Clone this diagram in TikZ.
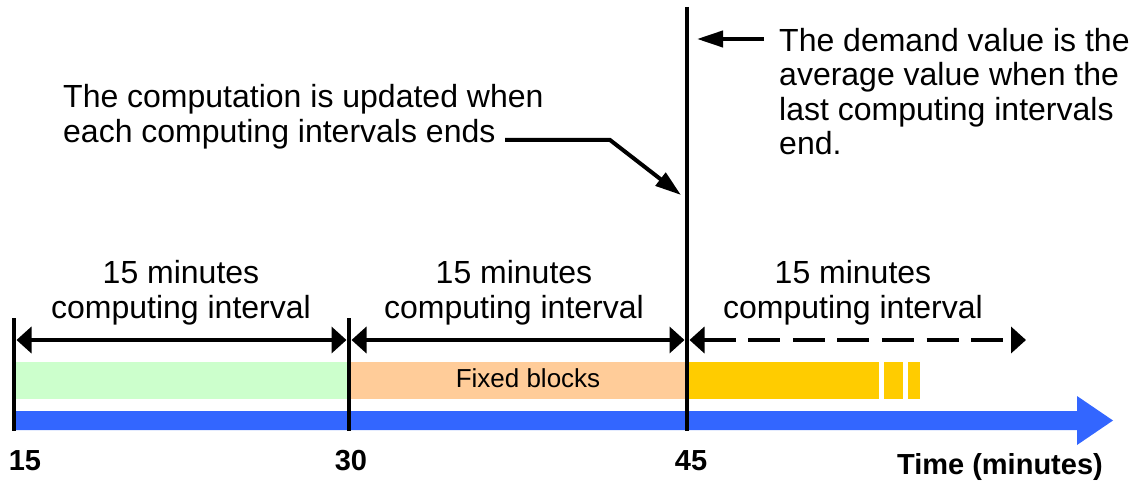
\documentclass[tikz,border=0pt]{standalone}
\usepackage{fontspec}
\setmainfont{Liberation Sans}
\usetikzlibrary{arrows.meta}
\definecolor{bargreen}{HTML}{CCFFCC}
\definecolor{barorange}{HTML}{FFCC99}
\definecolor{baryellow}{HTML}{FFCC00}
\definecolor{barblue}{HTML}{3366FF}

\begin{document}
\begin{tikzpicture}[x=1pt,y=-1pt,
  tick/.style={line width=4.5pt},
  dim/.style={line width=4pt,{Triangle[length=15pt,width=26pt]}-{Triangle[length=15pt,width=26pt]}},
  pointer/.style={line width=4pt,-{Triangle[length=26pt,width=16pt]}},
  txt/.style={font=\fontsize{32}{35}\selectfont,inner sep=0pt},
  num/.style={font=\fontsize{29}{30}\selectfont\bfseries,inner sep=0pt,anchor=base}]
\useasboundingbox (0,0) rectangle (1138,481);
% bars
\fill[bargreen] (14,362) rectangle (349,399);
\fill[barorange] (349,362) rectangle (687,399);
\fill[baryellow] (687,362) rectangle (879,399);
\fill[baryellow] (884,362) rectangle (903,399);
\fill[baryellow] (908,362) rectangle (920,399);
\fill[barblue] (14,411) -- (1077,411) -- (1077,396) -- (1113,420.5) -- (1077,445) -- (1077,430) -- (14,430) -- cycle;
\node[inner sep=0pt,anchor=base,font=\fontsize{26}{28}\selectfont] (fixed) at (528,387) {Fixed blocks};
% ticks
\coordinate (t15top) at (14,318);
\coordinate (t15) at (14,431);
\coordinate (t30top) at (349,318);
\coordinate (t30) at (349,431);
\coordinate (t45top) at (687,7);
\coordinate (t45) at (687,431);
\path[draw,tick] (t15top) -- (t15);
\path[draw,tick] (t30top) -- (t30);
\path[draw,tick] (t45top) -- (t45);
% intervals
\coordinate (d1) at (16.5,340);
\coordinate (d2) at (346.5,340);
\coordinate (d3) at (351.5,340);
\coordinate (d4) at (684.5,340);
\coordinate (d5) at (689.5,340);
\coordinate (d6) at (1026,340);
\path[draw,dim] (d1) -- (d2);
\path[draw,dim] (d3) -- (d4);
\path[draw,dim,dash pattern=on 32pt off 12.6pt] (d5) -- (d6);
\node[txt,align=center,anchor=base] (lab1) at (181,318) {15 minutes\\computing interval};
\node[txt,align=center,anchor=base] (lab2) at (514,318) {15 minutes\\computing interval};
\node[txt,align=center,anchor=base] (lab3) at (853,318) {15 minutes\\computing interval};
% notes
\node[txt,align=left,anchor=base west] (comp) at (63,143) {The computation is updated when\\each computing intervals ends};
\node[txt,align=left,anchor=base west,font=\fontsize{32}{34.5}\selectfont] (dem) at (779,155) {The demand value is the\\average value when the\\last computing intervals\\end.};
\coordinate (c1) at (505,140);
\coordinate (c2) at (610,140);
\coordinate (c3) at (681,195);
\path[draw,pointer] (c1) -- (c2) -- (c3);
\coordinate (e1) at (764,39);
\coordinate (e2) at (697,39);
\path[draw,pointer] (e1) -- (e2);
% axis labels
\node[num] (n15) at (25,470) {15};
\node[num] (n30) at (351,470) {30};
\node[num] (n45) at (691,470) {45};
\node[num,anchor=base east] (time) at (1103,474) {Time (minutes)};
\end{tikzpicture}
\end{document}
